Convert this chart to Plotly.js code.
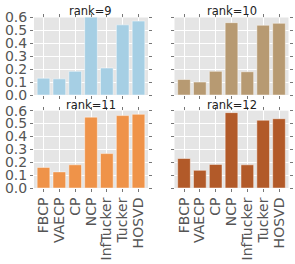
<!DOCTYPE html>
<html><head><meta charset="utf-8">
<script src="https://cdn.plot.ly/plotly-3.0.1.min.js"></script>
<style>html,body{margin:0;padding:0;background:#fff}#c{width:295px;height:264px}</style>
</head><body><div id="c"></div>
<script>
const methods = ["FBCP","VAECP","CP","NCP","InfTucker","Tucker","HOSVD"];
const ranks = ["rank=9","rank=10","rank=11","rank=12"];
const rank9  = [0.13, 0.125, 0.183, 0.62, 0.209, 0.543, 0.572];
const rank10 = [0.12, 0.10, 0.183, 0.56, 0.18, 0.54, 0.555];
const rank11 = [0.16, 0.125, 0.18, 0.55, 0.267, 0.562, 0.572];
const rank12 = [0.229, 0.137, 0.183, 0.585, 0.18, 0.526, 0.538];
const yTicks = [0, 0.1, 0.2, 0.3, 0.4, 0.5, 0.6];

const series = [rank9, rank10, rank11, rank12];
const colors = ["#a6cfe4", "#b79a72", "#ef9349", "#b25a29"];
const W = 295, H = 264;
const xd = [[34/W, 148/W], [174.5/W, 288.5/W]];
const yd = [[1-95/H, 1-17.5/H], [1-188/H, 1-110.7/H]];

const traces = [];
const layout = {
  width: W, height: H, margin: {l:0, r:0, t:0, b:0},
  paper_bgcolor: "#fff", showlegend: false, bargap: 0.2,
  font: {family: "DejaVu Sans", color: "#555"},
  annotations: []
};
series.forEach((vals, i) => {
  const col = i % 2, row = Math.floor(i / 2);
  const n = i + 1;
  const xa = "x" + (n === 1 ? "" : n), ya = "y" + (n === 1 ? "" : n);
  traces.push({
    type: "bar", x: methods.map((m, k) => k), y: vals, xaxis: xa, yaxis: ya,
    width: 0.8,
    marker: {color: colors[i], line: {color: "rgba(255,255,255,0.45)", width: 1}},
    hoverinfo: "skip"
  });
  const axx = {
    domain: xd[col], anchor: ya, range: [-0.6, 6.6],
    tickvals: methods.map((m, k) => k), ticktext: methods,
    showticklabels: row === 1, tickangle: -90,
    tickfont: {size: 14, color: "#555"},
    ticks: "outside", ticklen: 3, tickcolor: "#777", tickwidth: 1, mirror: "ticks",
    showgrid: true, gridcolor: "#fff", gridwidth: 1, zeroline: false, showline: false,
    fixedrange: true
  };
  const axy = {
    domain: yd[row], anchor: xa, range: [0, 0.6],
    tickvals: yTicks, ticktext: yTicks.map(v => v.toFixed(1)),
    showticklabels: col === 0,
    tickfont: {size: 14, color: "#555"},
    ticks: "outside", ticklen: 3, tickcolor: "#777", tickwidth: 1, mirror: "ticks",
    showgrid: true, gridcolor: "#fff", gridwidth: 1, zeroline: false, showline: false,
    fixedrange: true
  };
  layout["xaxis" + (n === 1 ? "" : n)] = axx;
  layout["yaxis" + (n === 1 ? "" : n)] = axy;
  layout.annotations.push({
    text: ranks[i], xref: "paper", yref: "paper",
    x: (xd[col][0] + xd[col][1]) / 2, y: yd[row][1],
    xanchor: "center", yanchor: "bottom", yshift: -3, showarrow: false,
    font: {size: 11.5, color: "#222", family: "DejaVu Sans"}
  });
});
layout.plot_bgcolor = "#e5e5e5";
Plotly.newPlot("c", traces, layout, {staticPlot: true, displayModeBar: false});
</script></body></html>
